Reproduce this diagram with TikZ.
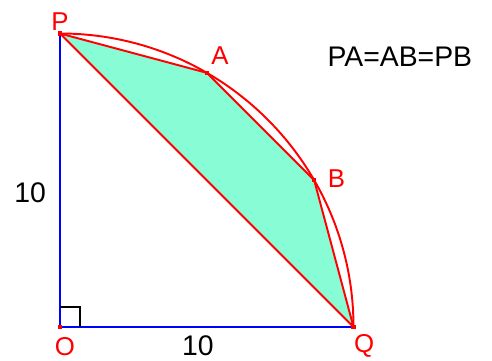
\documentclass[tikz,border=0pt]{standalone}
\usepackage{fontspec}
\setmainfont{Liberation Sans}
\definecolor{mint}{RGB}{136,252,212}
\begin{document}
\begin{tikzpicture}[
    x=0.8cm, y=0.8cm,
    chord/.style={draw=red, line width=1.5pt, line join=round},
    side/.style={draw=blue, line width=1.5pt},
    dot/.style={fill=red, inner sep=0pt, minimum size=3.4pt},
    lbl/.style={text=red, font=\fontsize{20}{20}\selectfont, inner sep=0pt},
    num/.style={font=\fontsize{22}{22}\selectfont, inner sep=0pt},
  ]
  \useasboundingbox (-2.044,-1.158) rectangle (14.719,11.141);
  % the points
  \coordinate (O) at (0,0);
  \coordinate (P) at (0,10);
  \coordinate (Q) at (10,0);
  \coordinate (A) at (60:10);
  \coordinate (B) at (30:10);
  % shaded region
  \fill[mint] (P) -- (A) -- (B) -- (Q) -- cycle;
  % radii and right angle
  \draw[side] (O) -- (P);
  \draw[side] (O) -- (Q);
  \draw[line width=1pt] (0,0.68) -- (0.68,0.68) -- (0.68,0);
  % arc and chords
  \draw[chord] (Q) arc[start angle=0, end angle=90, radius=10];
  \draw[chord] (P) -- (A) -- (B) -- (Q) -- cycle;
  \foreach \p in {O,P,Q,A,B}
    \node[dot] at (\p) {};
  % labels
  \node[lbl] (labP) at (0,10.40) {P};
  \node[lbl] (labA) at (5.45,9.23) {A};
  \node[lbl] (labB) at (9.42,5.04) {B};
  \node[lbl] (labO) at (0.17,-0.68) {O};
  \node[lbl] (labQ) at (10.36,-0.64) {Q};
  \node[num] (side1) at (-1.02,4.57) {10};
  \node[num] (side2) at (4.70,-0.64) {10};
  \node[num] (eqn) at (11.58,9.21) {PA=AB=PB};
\end{tikzpicture}
\end{document}
